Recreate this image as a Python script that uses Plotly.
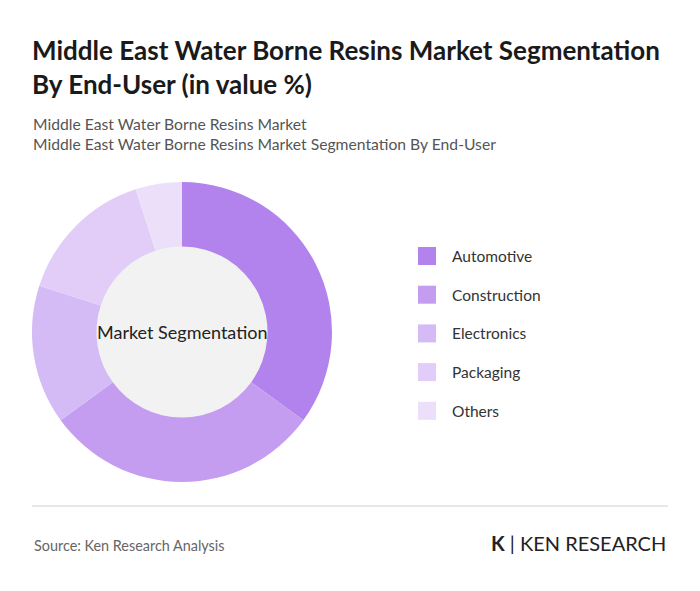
import plotly.graph_objects as go

categories = ["Automotive", "Construction", "Electronics", "Packaging", "Others"]
values = [35, 30, 15, 15, 5]
colors = ["#b283ec", "#c49df0", "#d5bbf5", "#e1cdf8", "#ebdffa"]

W, H = 700, 591
OFF = 8  # page body margin
def px(x): return (x - OFF) / W
def py(y): return 1 - (y - OFF) / H

fig = go.Figure()
fig.add_trace(go.Pie(
    labels=categories, values=values, sort=False, direction="clockwise", rotation=0,
    hole=0.57, marker=dict(colors=colors, line=dict(color="white", width=0)),
    textinfo="none", showlegend=False,
    domain=dict(x=[px(32), px(332)], y=[py(482), py(182)]),
))

shapes = [
    dict(type="circle", xref="paper", yref="paper", layer="below",
         x0=px(182 - 87), x1=px(182 + 87), y0=py(332 + 87), y1=py(332 - 87),
         fillcolor="#f2f2f2", line=dict(width=0)),
    dict(type="line", xref="paper", yref="paper", x0=px(32), x1=px(668), y0=py(506), y1=py(506),
         line=dict(color="#d0d0d0", width=1)),
]
annotations = [
    dict(text="<b>Middle East Water Borne Resins Market Segmentation<br>By End-User (in value %)</b>",
         x=px(30), y=py(32), xanchor="left", yanchor="top", align="left", showarrow=False,
         font=dict(size=26, color="#1a1a1a", family="Lato")),
    dict(text="Middle East Water Borne Resins Market<br>Middle East Water Borne Resins Market Segmentation By End-User",
         x=px(31), y=py(113), xanchor="left", yanchor="top", align="left", showarrow=False,
         font=dict(size=15.7, color="#555555", family="Lato")),
    dict(text="Market Segmentation", x=px(182), y=py(332), xanchor="center", yanchor="middle",
         showarrow=False, font=dict(size=18, color="#222222", family="Lato")),
    dict(text="Source: Ken Research Analysis", x=px(32), y=py(545), xanchor="left", yanchor="middle",
         showarrow=False, font=dict(size=14.4, color="#666666", family="Lato")),
    dict(text="<b>K</b> | KEN RESEARCH", x=px(668), y=py(543), xanchor="right", yanchor="middle",
         showarrow=False, font=dict(size=20, color="#222222", family="Lato")),
]
for i, (c, col) in enumerate(zip(categories, colors)):
    yc = 256 + i * 38.7
    shapes.append(dict(type="rect", xref="paper", yref="paper",
                       x0=px(418), x1=px(436), y0=py(yc + 9), y1=py(yc - 9),
                       fillcolor=col, line=dict(width=0)))
    annotations.append(dict(text=c, x=px(450), y=py(yc), xanchor="left", yanchor="middle",
                            showarrow=False, font=dict(size=15.5, color="#333333", family="Lato")))

fig.update_layout(width=W, height=H, margin=dict(l=0, r=0, t=0, b=0),
                  paper_bgcolor="white", plot_bgcolor="white",
                  shapes=shapes, annotations=annotations)
fig.write_html("out.html")
